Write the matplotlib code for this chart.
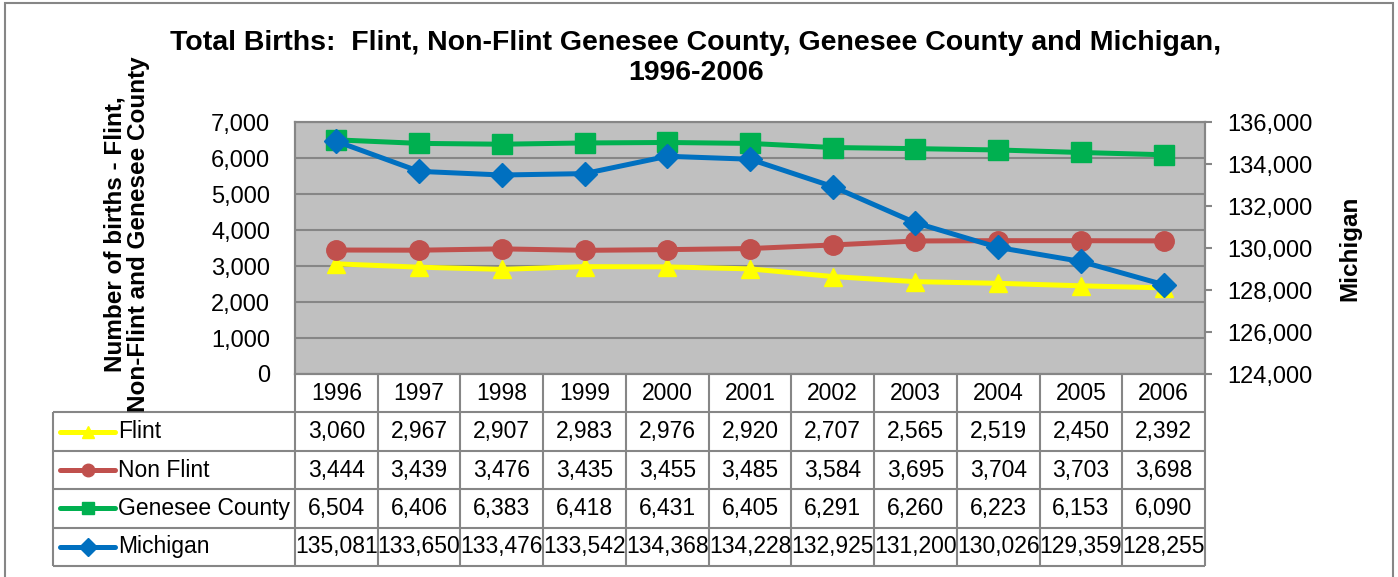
import numpy as np
import matplotlib.pyplot as plt
from matplotlib import patches
from matplotlib.ticker import FuncFormatter, MultipleLocator

years = ['1996', '1997', '1998', '1999', '2000', '2001', '2002', '2003', '2004', '2005', '2006']
flint = [3060, 2967, 2907, 2983, 2976, 2920, 2707, 2565, 2519, 2450, 2392]
non_flint = [3444, 3439, 3476, 3435, 3455, 3485, 3584, 3695, 3704, 3703, 3698]
genesee = [6504, 6406, 6383, 6418, 6431, 6405, 6291, 6260, 6223, 6153, 6090]
michigan = [135081, 133650, 133476, 133542, 134368, 134228, 132925, 131200, 130026, 129359, 128255]
names = ['Flint', 'Non Flint', 'Genesee County', 'Michigan']
colors = ['#FFFF00', '#C0504D', '#00B050', '#0070C0']
markers = ['^', 'o', 's', 'D']
msizes = [13, 14, 14, 12]

W, H = 1398, 577
grid_c = '#868686'
plt.rcParams['font.family'] = ['Liberation Sans', 'DejaVu Sans']

fig = plt.figure(figsize=(W / 100, H / 100), dpi=100)


def box(x0, y0, x1, y1):
    # pixel box (top-left origin) -> figure fraction rect
    return [x0 / W, 1 - y1 / H, (x1 - x0) / W, (y1 - y0) / H]


comma = FuncFormatter(lambda v, p: f'{int(v):,}')
x = np.arange(len(years))

ax = fig.add_axes(box(295, 122, 1205, 374))
ax.set_facecolor('#C0C0C0')
for vals, c, m, ms in zip([flint, non_flint, genesee], colors[:3], markers[:3], msizes[:3]):
    ax.plot(x, vals, color=c, marker=m, ms=ms, lw=3.6)
ax.set_xlim(-0.5, len(years) - 0.5)
ax.set_ylim(0, 7000)
ax.yaxis.set_major_locator(MultipleLocator(1000))
ax.yaxis.set_major_formatter(comma)
ax.grid(axis='y', color=grid_c, lw=1.5)
ax.set_axisbelow(True)
ax.set_xticks([])
ax.tick_params(axis='y', length=0, labelsize=17, pad=18)

ax2 = ax.twinx()
ax2.plot(x, michigan, color=colors[3], marker=markers[3], ms=msizes[3], lw=3.6)
ax2.set_ylim(124000, 136000)
ax2.yaxis.set_major_locator(MultipleLocator(2000))
ax2.yaxis.set_major_formatter(comma)
ax2.tick_params(axis='y', length=5, width=1.5, color=grid_c, labelsize=17, pad=11)
for a in (ax, ax2):
    for s in a.spines.values():
        s.set_color(grid_c)
        s.set_linewidth(1.5)

fig.text(696 / W, 1 - 58 / H,
         'Total Births:  Flint, Non-Flint Genesee County, Genesee County and Michigan,\n1996-2006',
         ha='center', va='center', fontsize=20.5, fontweight='bold', linespacing=1.15)
fig.text(127 / W, 1 - 234 / H, 'Number of births - Flint,\nNon-Flint and Genesee County',
         rotation=90, ha='center', va='center', multialignment='center',
         fontsize=17.5, fontweight='bold', linespacing=1.0)
fig.text(1350 / W, 1 - 248 / H, 'Michigan', rotation=90, ha='center', va='center',
         fontsize=17.5, fontweight='bold')

# data table
lab_w = 242 / (910 / len(years))
left = -0.5 - lab_w
right = len(years) - 0.5
tb = fig.add_axes(box(53, 374, 1205, 566))
tb.set_xlim(left, right)
tb.set_ylim(len(names) + 1, 0)
tb.axis('off')
kw = dict(color=grid_c, lw=1.5, clip_on=False)
tb.hlines(np.arange(1, len(names) + 2), left, right, **kw)
tb.vlines([left], 1, len(names) + 1, **kw)
tb.vlines(np.arange(len(years) + 1) - 0.5, 0, len(names) + 1, **kw)
for i, yr in enumerate(years):
    tb.text(i, 0.5, yr, ha='center', va='center', fontsize=16.5)
table_vals = [flint, non_flint, genesee, michigan]
for r, (name, vals, c, m) in enumerate(zip(names, table_vals, colors, markers), start=1):
    for i, v in enumerate(vals):
        tb.text(i, r + 0.5, f'{v:,}', ha='center', va='center', fontsize=16.5)
    tb.plot([left + 0.09, left + 0.75], [r + 0.5, r + 0.5], color=c, lw=3.6,
            solid_capstyle='round', clip_on=False)
    tb.plot([left + 0.42], [r + 0.5], color=c, marker=m, ms=9, clip_on=False)
    tb.text(left + 0.79, r + 0.5, name, ha='left', va='center', fontsize=16.5)

fig.add_artist(patches.Rectangle((5 / W, -0.01), (1393 - 5) / W, 1.01 - 3 / H,
                                 transform=fig.transFigure, fill=False,
                                 edgecolor=grid_c, lw=1.5))

fig.savefig('out.png', dpi=100)
